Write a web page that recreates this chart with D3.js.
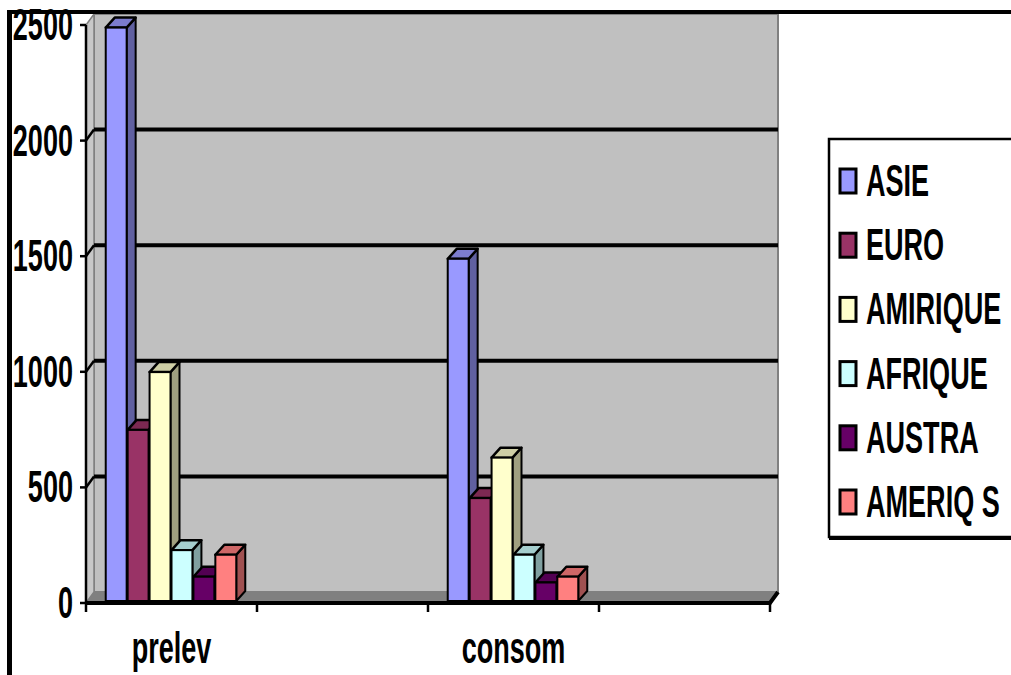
<!DOCTYPE html>
<html>
<head>
<meta charset="utf-8">
<script src="https://cdn.jsdelivr.net/npm/d3@7"></script>
<style>
  html, body { margin: 0; padding: 0; background: #fff; }
  svg { display: block; }
  text { font-family: "Liberation Sans", Arial, sans-serif; font-weight: bold; fill: #000; }
</style>
</head>
<body>
<svg id="chart" width="1011" height="675"></svg>
<script>
// Water withdrawal ("prelev") vs consumption ("consom") by region
const categories = ["prelev", "", "consom", ""];
const series = ["ASIE", "EURO", "AMIRIQUE", "AFRIQUE", "AUSTRA", "AMERIQ S"];
const prelevValues = [2480, 740, 990, 220, 105, 200];
const consomValues = [1480, 445, 620, 200, 80, 105];
const seriesColors = ["#9999ff", "#993366", "#ffffcc", "#ccffff", "#660066", "#ff8080"];
const yTicks = [0, 500, 1000, 1500, 2000, 2500];

(function draw() {
  const valuesByCategory = [prelevValues, null, consomValues, null];
  const svg = d3.select("#chart");

  // front plane of the 3D box and its depth offset
  const plotLeft = 86, plotRight = 770, plotBottom = 603, plotTop = 25;
  const depth = { dx: 8, dy: -11 };

  const x = d3.scaleBand().domain(d3.range(categories.length)).range([plotLeft, plotRight]).padding(0);
  const x1 = d3.scaleBand().domain(d3.range(series.length)).range([0, x.bandwidth()])
    .paddingInner(0).paddingOuter(0.9);
  const y = d3.scaleLinear().domain([0, 2500]).range([plotBottom, plotTop]);

  const g = svg.append("g");

  // back wall
  g.append("rect")
    .attr("x", plotLeft + depth.dx).attr("y", y(2500) + depth.dy)
    .attr("width", plotRight - plotLeft).attr("height", y(0) - y(2500))
    .attr("fill", "#c0c0c0").attr("stroke", "#808080").attr("stroke-width", 2);

  // left side wall
  g.append("polygon")
    .attr("points", [[plotLeft, y(2500)], [plotLeft + depth.dx, y(2500) + depth.dy],
                     [plotLeft + depth.dx, y(0) + depth.dy], [plotLeft, y(0)]].join(" "))
    .attr("fill", "#c8c8c8").attr("stroke", "#808080").attr("stroke-width", 1.5);

  // floor
  g.append("polygon")
    .attr("points", [[plotLeft, y(0)], [plotLeft + depth.dx, y(0) + depth.dy],
                     [plotRight + depth.dx, y(0) + depth.dy], [plotRight, y(0)]].join(" "))
    .attr("fill", "#808080");

  // gridlines on back wall and side wall
  const grid = yTicks.filter(t => t > 0 && t < 2500);
  g.selectAll(".grid").data(grid).join("line")
    .attr("x1", plotLeft + depth.dx).attr("x2", plotRight + depth.dx)
    .attr("y1", d => y(d) + depth.dy).attr("y2", d => y(d) + depth.dy)
    .attr("stroke", "#000").attr("stroke-width", 4);
  g.selectAll(".sidegrid").data(grid).join("line")
    .attr("x1", plotLeft).attr("x2", plotLeft + depth.dx)
    .attr("y1", d => y(d)).attr("y2", d => y(d) + depth.dy)
    .attr("stroke", "#000").attr("stroke-width", 2.5);

  // bars as prisms
  const barFront = { dx: 0, dy: -2 };
  const barDepth = { dx: 9, dy: -10 };
  valuesByCategory.forEach((vals, ci) => {
    if (!vals) return;
    vals.forEach((v, si) => {
      const c = d3.color(seriesColors[si]);
      const xl = x(ci) + x1(si) + barFront.dx;
      const w = x1.bandwidth() - 1;
      const yt = y(v) + barFront.dy;
      const yb = y(0) + barFront.dy;
      const bar = g.append("g");
      bar.append("polygon")
        .attr("points", [[xl + w, yt], [xl + w + barDepth.dx, yt + barDepth.dy],
                         [xl + w + barDepth.dx, yb + barDepth.dy], [xl + w, yb]].join(" "))
        .attr("fill", c.darker(1.3)).attr("stroke", "#000").attr("stroke-width", 2)
        .attr("stroke-linejoin", "round");
      bar.append("polygon")
        .attr("points", [[xl, yt], [xl + barDepth.dx, yt + barDepth.dy],
                         [xl + w + barDepth.dx, yt + barDepth.dy], [xl + w, yt]].join(" "))
        .attr("fill", c.darker(0.6)).attr("stroke", "#000").attr("stroke-width", 2.5)
        .attr("stroke-linejoin", "round");
      bar.append("rect")
        .attr("x", xl).attr("y", yt).attr("width", w).attr("height", yb - yt)
        .attr("fill", c).attr("stroke", "#000").attr("stroke-width", 2);
    });
  });

  // front floor edge (category axis)
  g.append("path")
    .attr("d", `M${plotLeft},${y(0)}H${plotRight}L${plotRight + depth.dx},${y(0) + depth.dy}`)
    .attr("fill", "none").attr("stroke", "#000").attr("stroke-width", 4);
  const xTickPos = d3.range(categories.length + 1).map(i => plotLeft + i * x.bandwidth());
  g.selectAll(".xtick").data(xTickPos).join("line")
    .attr("x1", d => d).attr("x2", d => d)
    .attr("y1", y(0)).attr("y2", y(0) + 9)
    .attr("stroke", "#000").attr("stroke-width", 2.5);

  // value axis
  g.append("line")
    .attr("x1", plotLeft).attr("x2", plotLeft).attr("y1", y(2500)).attr("y2", y(0))
    .attr("stroke", "#000").attr("stroke-width", 2.5);
  g.selectAll(".ytick").data(yTicks).join("line")
    .attr("x1", plotLeft - 6).attr("x2", plotLeft)
    .attr("y1", d => y(d)).attr("y2", d => y(d))
    .attr("stroke", "#000").attr("stroke-width", 2.5);

  const sx = 0.66, sy = 1.06, fs = 41;
  g.selectAll(".ylab").data(yTicks).join("text")
    .attr("transform", d => `translate(${plotLeft - 13},${y(d)}) scale(${sx},${sy})`)
    .attr("text-anchor", "end").attr("dominant-baseline", "central")
    .attr("font-size", fs).text(d => d);

  g.selectAll(".xlab").data(categories).join("text")
    .attr("transform", (d, i) => `translate(${x(i) + x.bandwidth() / 2},663) scale(${sx},${sy})`)
    .attr("text-anchor", "middle")
    .attr("font-size", fs).text(d => d);

  // legend
  const lg = svg.append("g");
  lg.append("rect")
    .attr("x", 829).attr("y", 139).attr("width", 200).attr("height", 398)
    .attr("fill", "#fff").attr("stroke", "#000").attr("stroke-width", 2.5);
  lg.append("line").attr("x1", 829).attr("x2", 1011).attr("y1", 538.5).attr("y2", 538.5)
    .attr("stroke", "#000").attr("stroke-width", 3);
  const ly = d3.scalePoint().domain(d3.range(series.length)).range([181, 502]);
  series.forEach((s, i) => {
    lg.append("rect")
      .attr("x", 840).attr("y", ly(i) - 12).attr("width", 16).attr("height", 24)
      .attr("fill", seriesColors[i]).attr("stroke", "#000").attr("stroke-width", 3);
    lg.append("text")
      .attr("transform", `translate(866,${ly(i)}) scale(${sx},${sy})`)
      .attr("dominant-baseline", "central")
      .attr("font-size", fs).text(s);
  });

  // outer frame (top and left edges)
  svg.append("rect").attr("x", 7).attr("y", 10).attr("width", 1004).attr("height", 4).attr("fill", "#000");
  svg.append("rect").attr("x", 7).attr("y", 10).attr("width", 5).attr("height", 665).attr("fill", "#000");
})();
</script>
</body>
</html>
